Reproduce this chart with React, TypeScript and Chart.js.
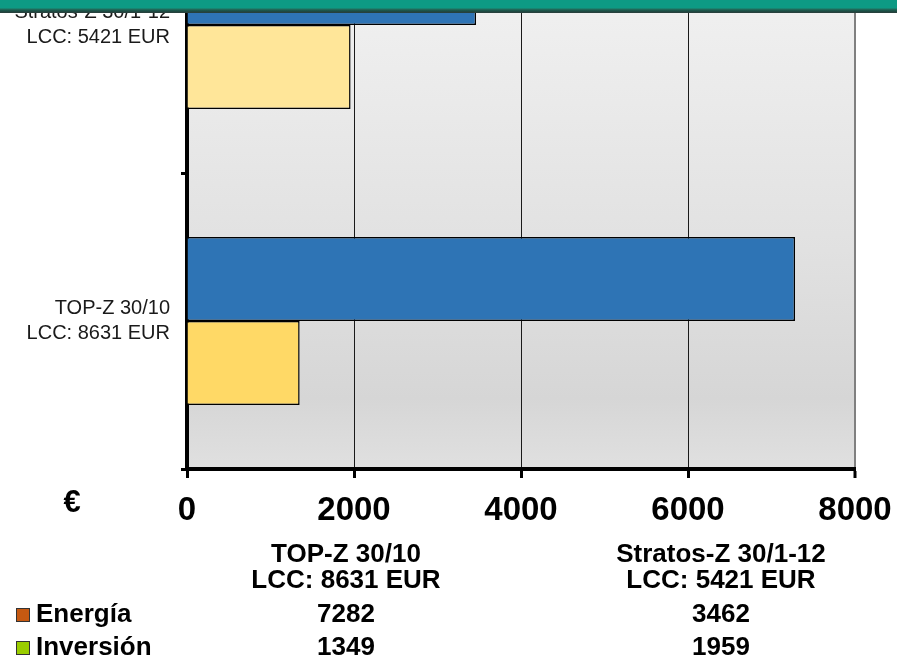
import React, { useEffect, useRef } from 'react';
import { Chart, registerables } from 'chart.js';

Chart.register(...registerables);

// ---- data ----
const categories: string[][] = [
  ['TOP-Z 30/10', 'LCC: 8631 EUR'],
  ['Stratos-Z 30/1-12', 'LCC: 5421 EUR'],
];
const seriesNames = ['Energía', 'Inversión'];
const energia = [7282, 3462];
const inversion = [1349, 1959];
const xMin = 0;
const xMax = 8000;
const xStep = 2000;
const currencyLabel = '€';

// ---- layout / style ----
const W = 897;
const H = 801;
const SHIFT = 140; // canvas drawn above viewport top
const FONT = '"Liberation Sans", Arial, Helvetica, sans-serif';
const blue = '#2E74B5';
const yellows = ['#FFD966', '#FFE699'];
const legendColors = ['#C65911', '#9ACD00'];

const bgPlugin = {
  id: 'plotBg',
  beforeDraw(chart: any) {
    const { ctx, chartArea } = chart;
    if (!chartArea) return;
    const { left, top, right, bottom } = chartArea;
    const g = ctx.createLinearGradient(0, top, 0, bottom);
    g.addColorStop(0, '#F7F7F7');
    g.addColorStop(0.24, '#EFEFEF');
    g.addColorStop(0.63, '#E1E1E1');
    g.addColorStop(0.88, '#D6D6D6');
    g.addColorStop(1, '#E0E0E0');
    ctx.save();
    ctx.fillStyle = g;
    ctx.fillRect(left, top, right - left, bottom - top);
    ctx.restore();
  },
};

const tablePlugin = {
  id: 'dataTable',
  afterDraw(chart: any) {
    const { ctx } = chart;
    ctx.save();
    ctx.fillStyle = '#000';
    ctx.textAlign = 'center';
    ctx.textBaseline = 'middle';
    ctx.font = `bold 31px ${FONT}`;
    ctx.fillText(currencyLabel, 72, 503 + SHIFT);

    ctx.font = `bold 26px ${FONT}`;
    const cols = [346, 721];
    const headerY = [555, 581];
    const rowY = [615, 648];
    categories.forEach((lines, i) => {
      lines.forEach((l, j) => ctx.fillText(l, cols[i], headerY[j] + SHIFT));
      ctx.fillText(String(energia[i]), cols[i], rowY[0] + SHIFT);
      ctx.fillText(String(inversion[i]), cols[i], rowY[1] + SHIFT);
    });

    ctx.textAlign = 'left';
    seriesNames.forEach((name, r) => {
      const cy = rowY[r] + SHIFT;
      ctx.fillStyle = legendColors[r];
      ctx.fillRect(16.5, cy - 6.5, 13, 13);
      ctx.strokeStyle = '#333';
      ctx.lineWidth = 1;
      ctx.strokeRect(16.5, cy - 6.5, 13, 13);
      ctx.fillStyle = '#000';
      ctx.fillText(name, 36, cy);
    });
    ctx.restore();
  },
};

export default function App() {
  const ref = useRef<HTMLCanvasElement>(null);

  useEffect(() => {
    if (!ref.current) return;
    const chart = new Chart(ref.current, {
      type: 'bar',
      data: {
        labels: categories,
        datasets: [
          {
            label: seriesNames[0],
            data: energia,
            backgroundColor: blue,
            borderColor: '#000',
            borderWidth: 1.5,
          },
          {
            label: seriesNames[1],
            data: inversion,
            backgroundColor: yellows,
            borderColor: '#000',
            borderWidth: 1.5,
          },
        ],
      },
      options: {
        indexAxis: 'y',
        responsive: false,
        animation: false,
        devicePixelRatio: 1,
        layout: { padding: { top: 17, right: 42, left: 0, bottom: 0 } },
        plugins: {
          legend: { display: false },
          tooltip: { enabled: false },
          title: { display: false },
        },
        datasets: {
          bar: { categoryPercentage: 0.5676, barPercentage: 1 },
        },
        scales: {
          x: {
            type: 'linear',
            min: xMin,
            max: xMax,
            ticks: {
              stepSize: xStep,
              color: '#000',
              padding: 13,
              font: { family: FONT, size: 33, weight: 'bold' },
              callback: (v: any) => String(v),
            },
            grid: {
              color: (c: any) => (c.tick && c.tick.value === xMax ? '#808080' : '#1a1a1a'),
              lineWidth: (c: any) => (c.tick && c.tick.value === xMax ? 2 : 1),
              tickColor: '#000',
              tickWidth: 3,
              tickLength: 9,
            },
            border: { display: true, color: '#000', width: 4 },
            afterFit: (scale: any) => {
              scale.height = 192;
              scale.paddingLeft = 0;
              scale.paddingRight = 0;
            },
          },
          y: {
            type: 'category',
            reverse: true,
            ticks: {
              color: '#1a1a1a',
              padding: 11,
              font: { family: FONT, size: 20, lineHeight: 1.25 },
            },
            grid: {
              offset: true,
              drawOnChartArea: false,
              drawTicks: true,
              tickColor: '#000',
              tickWidth: 3,
              tickLength: 6,
            },
            border: { display: true, color: '#000', width: 4 },
            afterFit: (scale: any) => {
              scale.width = 187;
              scale.paddingTop = 0;
              scale.paddingBottom = 0;
            },
          },
        },
      },
      plugins: [bgPlugin, tablePlugin],
    });
    return () => chart.destroy();
  }, []);

  return (
    <div style={{ position: 'fixed', left: 0, top: 0, width: W, height: 661, overflow: 'hidden', background: '#fff' }}>
      <canvas
        ref={ref}
        width={W}
        height={H}
        style={{ position: 'absolute', left: 0, top: -SHIFT, width: W, height: H }}
      />
      <div
        style={{
          position: 'absolute',
          left: 0,
          top: 0,
          width: W,
          height: 13,
          background:
            'linear-gradient(to bottom, #0D9A84 0px, #0D9A84 8px, #22705F 9px, #1B4D44 11px, #2A3D3A 13px)',
        }}
      />
    </div>
  );
}
